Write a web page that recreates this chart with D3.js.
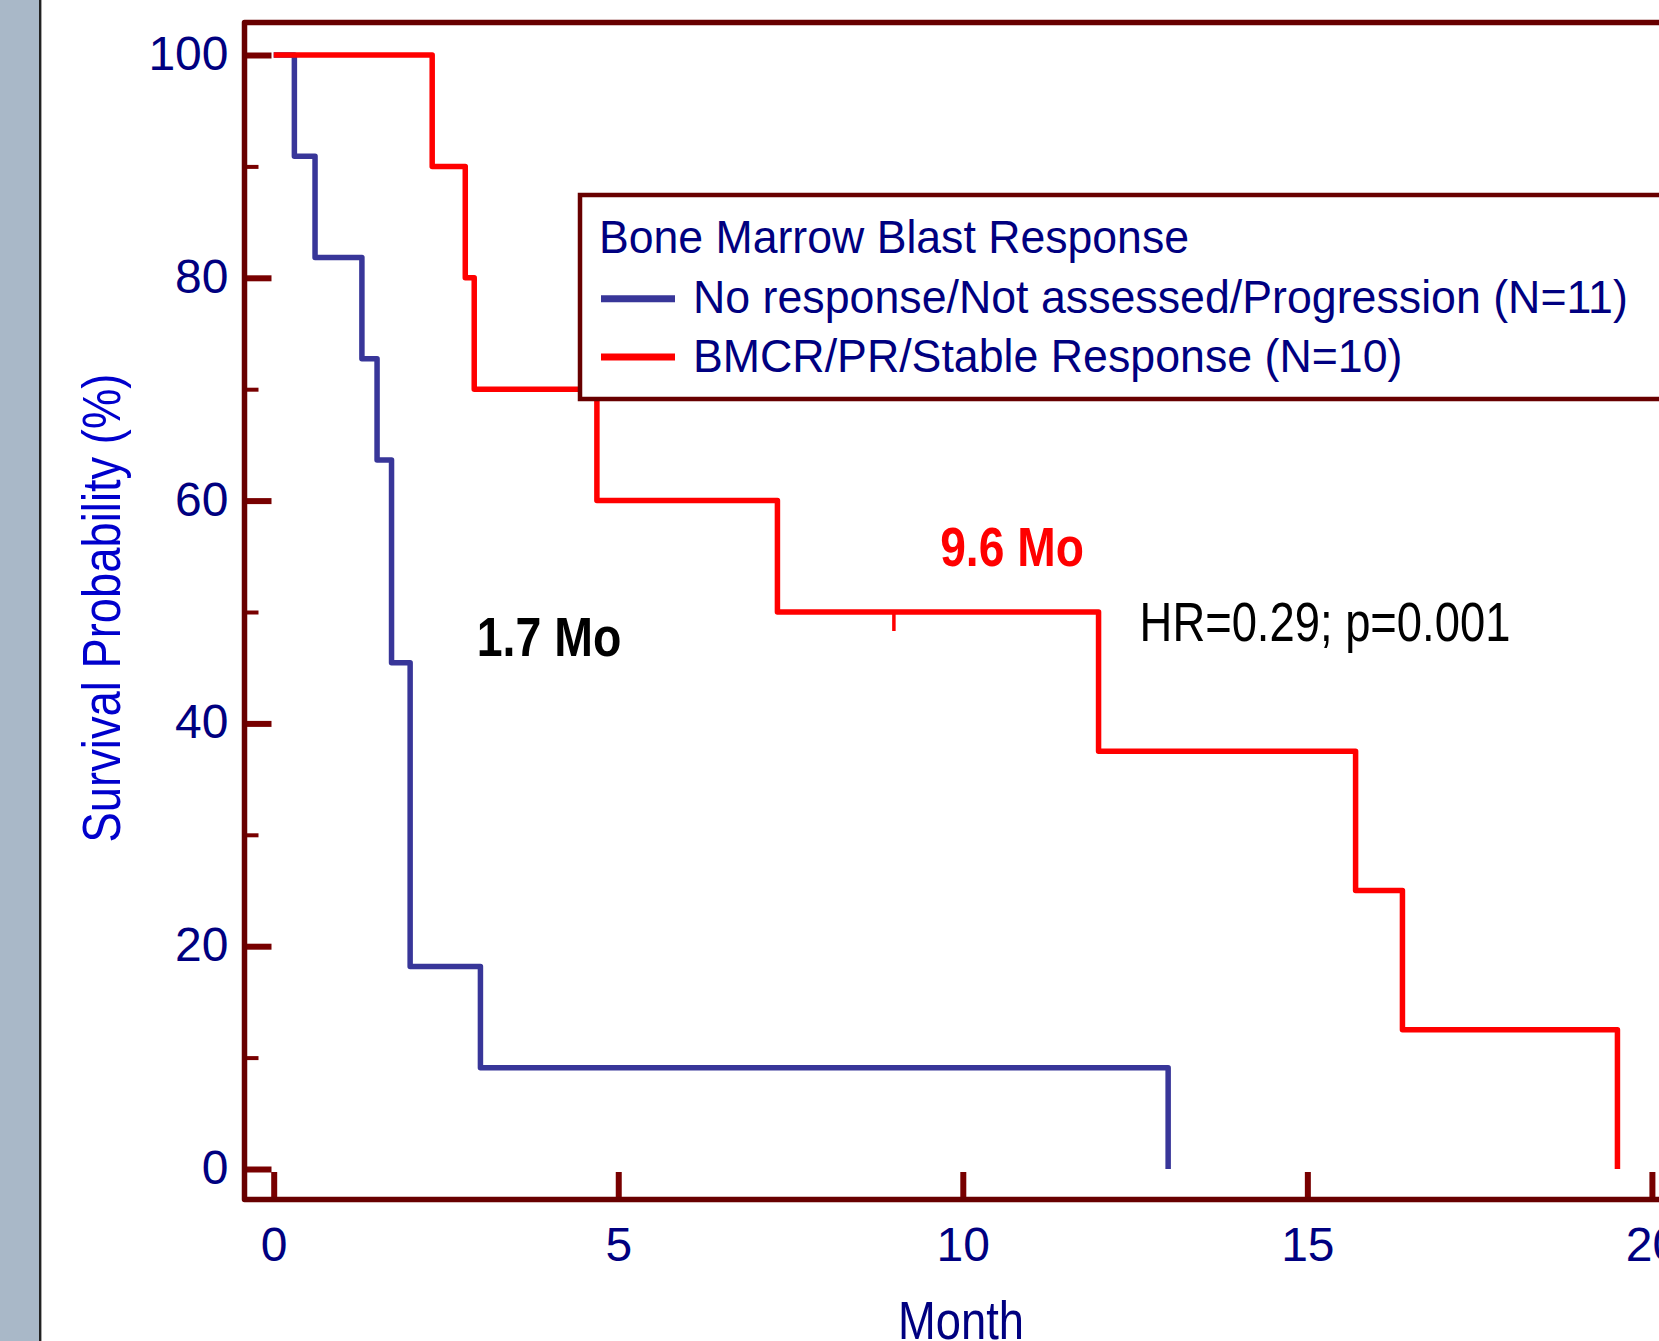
<!DOCTYPE html>
<html>
<head>
<meta charset="utf-8">
<script src="https://cdn.jsdelivr.net/npm/d3@7"></script>
<style>
  html, body { margin: 0; padding: 0; background: #fff; overflow: hidden; }
  svg { display: block; }
  text { font-family: "Liberation Sans", Arial, sans-serif; }
</style>
</head>
<body>
<svg id="chart" width="1659" height="1341"></svg>
<script>
// Kaplan-Meier steps (months, survival %)
const noRespTimes = [0, 0.3, 0.6, 1.28, 1.5, 1.71, 1.98, 3.0, 12.98];
const noRespSurv = [100, 90.91, 81.82, 72.73, 63.64, 45.45, 18.18, 9.09, 0];
const respTimes = [0, 2.3, 2.78, 2.91, 4.69, 7.31, 11.97, 15.7, 16.38, 19.5];
const respSurv = [100, 90, 80, 70, 60, 50, 37.5, 25, 12.5, 0];
const respCensorTimes = [9.0];
const respCensorSurv = [50];

const xTicks = [0, 5, 10, 15, 20];
const yTicks = [0, 20, 40, 60, 80, 100];
const yMinorTicks = [10, 30, 50, 70, 90];

const legendTitle = "Bone Marrow Blast Response";
const seriesNames = ["No response/Not assessed/Progression (N=11)", "BMCR/PR/Stable Response (N=10)"];
const seriesColors = ["#383699", "#ff0000"];

const frameColor = "#680000";
const tickColor = "#780000";
const navy = "#000080";

const svg = d3.select("#chart");

// left grey strip
svg.append("rect").attr("x", 0).attr("y", 0).attr("width", 39).attr("height", 1341).attr("fill", "#a9b8c8");
svg.append("line").attr("x1", 40.2).attr("x2", 40.2).attr("y1", 0).attr("y2", 1341)
  .attr("stroke", "#222").attr("stroke-width", 2.4);

const xScale = d3.scaleLinear().domain([0, 20]).range([273.7, 1651.9]);
const yScale = d3.scaleLinear().domain([0, 100]).range([1169, 55]);

const frame = { left: 244.5, top: 22.5, bottom: 1199.5, right: 1720 };

// y axis (major + minor ticks pointing inward)
const yAxis = d3.axisLeft(yScale).tickValues(yTicks).tickSizeInner(-27).tickSizeOuter(0).tickPadding(16);
const yG = svg.append("g").attr("transform", `translate(${frame.left},0)`).call(yAxis);
yG.select(".domain").remove();
yG.selectAll("line").attr("stroke", tickColor).attr("stroke-width", 6);
yG.selectAll("text").attr("dy", 14.5).attr("fill", navy).attr("font-size", 48)
  .attr("font-family", "Liberation Sans, Arial, sans-serif");

const yMinor = d3.axisLeft(yScale).tickValues(yMinorTicks).tickSizeInner(-14).tickSizeOuter(0).tickFormat("");
const yMinorG = svg.append("g").attr("transform", `translate(${frame.left},0)`).call(yMinor);
yMinorG.select(".domain").remove();
yMinorG.selectAll("line").attr("stroke", tickColor).attr("stroke-width", 4);

// x axis
const xAxis = d3.axisBottom(xScale).tickValues(xTicks).tickSizeInner(-27.5).tickSizeOuter(0);
const xG = svg.append("g").attr("transform", `translate(0,${frame.bottom})`).call(xAxis);
xG.select(".domain").remove();
xG.selectAll("line").attr("stroke", tickColor).attr("stroke-width", 6);
xG.selectAll("text").attr("y", 61.5).attr("dy", 0).attr("fill", navy).attr("font-size", 48)
  .attr("font-family", "Liberation Sans, Arial, sans-serif");

// frame
svg.append("path")
  .attr("d", `M${frame.right},${frame.top}H${frame.left}V${frame.bottom}H${frame.right}`)
  .attr("fill", "none").attr("stroke", frameColor).attr("stroke-width", 5.5).attr("stroke-linejoin", "round");

// survival curves
const line = d3.line()
  .x(d => xScale(d[0]))
  .y(d => yScale(d[1]))
  .curve(d3.curveStepAfter);

const curves = [
  d3.zip(noRespTimes, noRespSurv),
  d3.zip(respTimes, respSurv)
];

svg.selectAll(".km")
  .data(curves)
  .enter()
  .append("path")
  .attr("class", "km")
  .attr("fill", "none")
  .attr("stroke", (d, i) => seriesColors[i])
  .attr("stroke-width", 5.5)
  .attr("stroke-linejoin", "round")
  .attr("d", d => line(d));

// censor mark
svg.selectAll(".censor")
  .data(d3.zip(respCensorTimes, respCensorSurv))
  .enter()
  .append("line")
  .attr("x1", d => xScale(d[0])).attr("x2", d => xScale(d[0]))
  .attr("y1", d => yScale(d[1])).attr("y2", d => yScale(d[1]) + 19)
  .attr("stroke", seriesColors[1]).attr("stroke-width", 3.5);

// legend
const lg = svg.append("g");
lg.append("rect").attr("x", 580).attr("y", 195).attr("width", 1200).attr("height", 204)
  .attr("fill", "#fff").attr("stroke", frameColor).attr("stroke-width", 4.5);
lg.append("text").attr("transform", "translate(599,253) scale(0.97,1)")
  .attr("font-size", 46).attr("fill", navy).text(legendTitle);
const rowY = [298.7, 357];
const textY = [313.3, 371.7];
seriesNames.forEach((name, i) => {
  lg.append("line").attr("x1", 601).attr("x2", 675).attr("y1", rowY[i]).attr("y2", rowY[i])
    .attr("stroke", seriesColors[i]).attr("stroke-width", 7);
  lg.append("text").attr("transform", `translate(693,${textY[i]}) scale(0.972,1)`)
    .attr("font-size", 46).attr("fill", navy).text(name);
});

// annotations
svg.append("text").attr("transform", "translate(549,656) scale(0.83,1)")
  .attr("text-anchor", "middle").attr("font-size", 56).attr("font-weight", "bold")
  .attr("fill", "#000").text("1.7 Mo");
svg.append("text").attr("transform", "translate(1012,566) scale(0.84,1)")
  .attr("text-anchor", "middle").attr("font-size", 55).attr("font-weight", "bold")
  .attr("fill", "#ff0000").text("9.6 Mo");
svg.append("text").attr("transform", "translate(1325,641) scale(0.825,1)")
  .attr("text-anchor", "middle").attr("font-size", 55)
  .attr("fill", "#000").text("HR=0.29; p=0.001");

// axis titles
svg.append("text").attr("transform", "translate(120,608) rotate(-90) scale(0.84,1)")
  .attr("text-anchor", "middle").attr("font-size", 54).attr("fill", "#0000cc")
  .text("Survival Probability (%)");
svg.append("text").attr("transform", "translate(961,1338.5) scale(0.84,1)")
  .attr("text-anchor", "middle").attr("font-size", 54).attr("fill", navy)
  .text("Month");
</script>
</body>
</html>
